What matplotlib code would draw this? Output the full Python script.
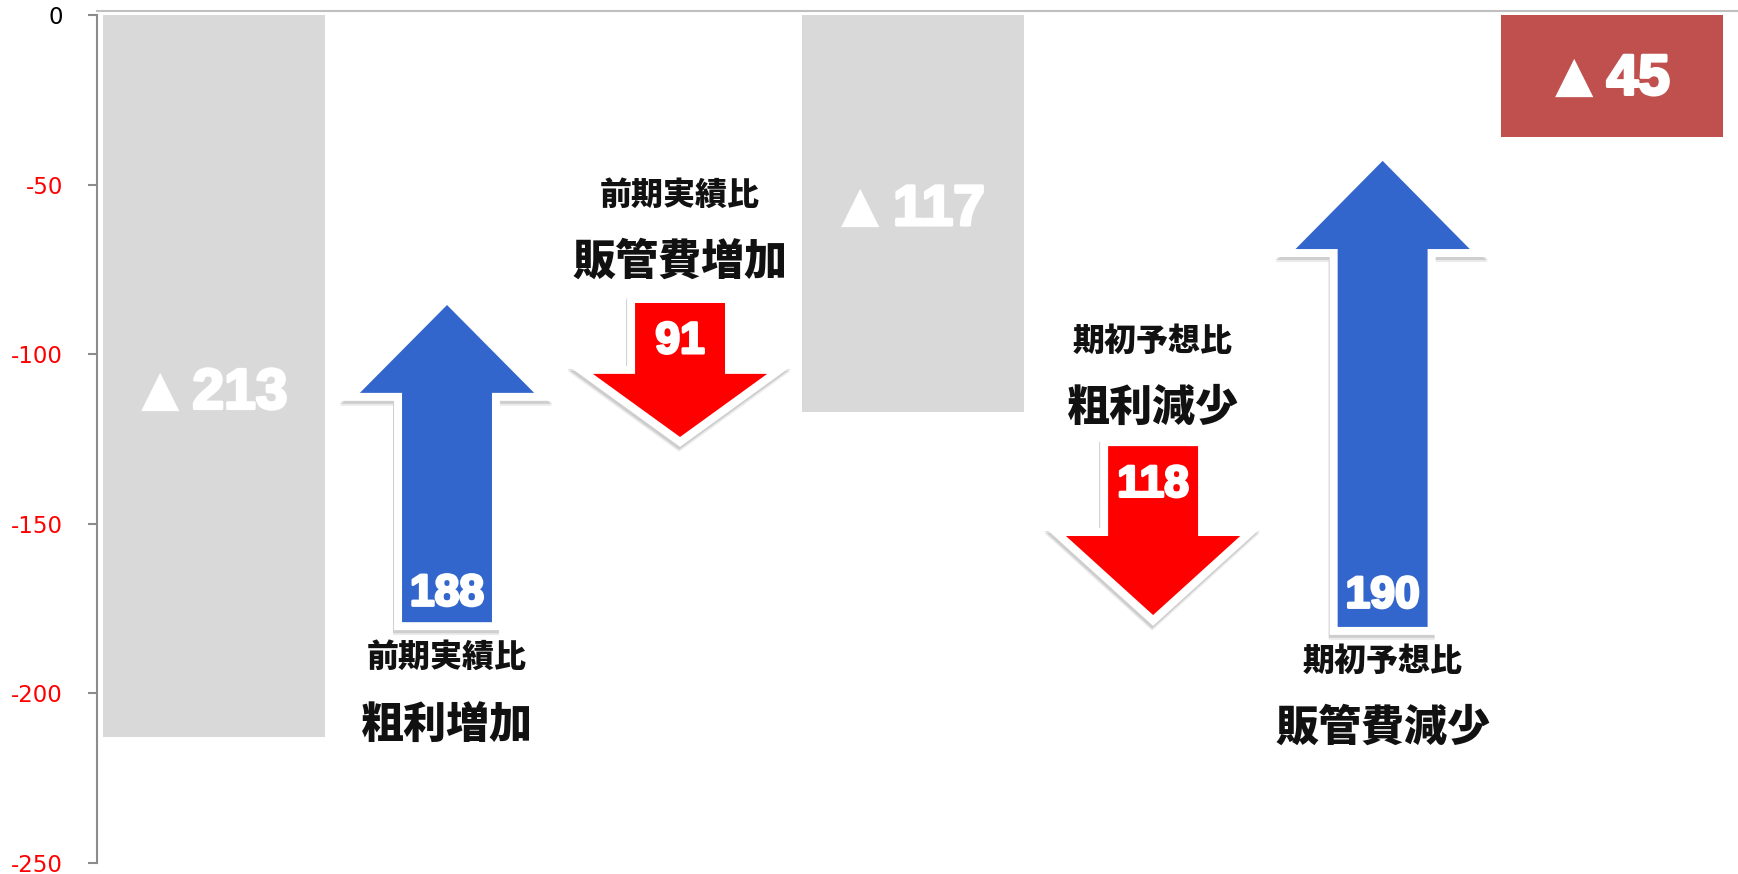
import matplotlib
matplotlib.use("Agg")
import matplotlib.pyplot as plt
from matplotlib.patches import Polygon
from matplotlib.transforms import offset_copy
import matplotlib.patheffects as pe

# ---- data ----
bar_slots = [0, 3, 6]
bar_values = [-213, -117, -36]          # drawn heights
bar_numbers = ["213", "117", "45"]
bar_mark = "▲"
bar_colors = ["#D9D9D9", "#D9D9D9", "#C0504D"]
bar_label_y = [-111.6, -57.5, -19.0]

arrow_slots = [1.0, 2.0, 4.03, 5.015]
arrow_values = ["188", "91", "118", "190"]
arrow_colors = ["#3366CC", "#FF0000", "#FF0000", "#3366CC"]
arrow_tail = [-179.0, -84.9, -127.1, -180.4]
arrow_headbase = [-111.4, -105.8, -153.6, -69.0]
arrow_tip = [-85.5, -124.4, -176.9, -43.0]
arrow_value_y = [-170.7, -96.3, -138.6, -171.3]
arrow_sub = ["前期実績比", "前期実績比", "期初予想比", "期初予想比"]
arrow_main = ["粗利増加", "販管費増加", "粗利減少", "販管費減少"]
arrow_sub_y = [-189.4, -53.1, -96.1, -190.4]
arrow_main_y = [-209.3, -72.7, -115.9, -210.2]

yticks = [0, -50, -100, -150, -200, -250]
unit_label = "百万円"

W, H, DPI = 1738, 874, 100
fig = plt.figure(figsize=(W / DPI, H / DPI), dpi=DPI)
ax = fig.add_axes([97 / W, 11 / H, (W - 97) / W, 852 / H])
ax.set_xlim(-0.502, 6.54)
ax.set_ylim(-250, 1.18)

CJK = ["Noto Sans CJK JP", "DejaVu Sans"]
NUM = ["Liberation Sans", "DejaVu Sans"]
renderer = fig.canvas.get_renderer()

# bars
ax.bar(bar_slots, bar_values, width=0.953, color=bar_colors, zorder=2)
TRI_W, GAP = 40, 12
for x, y, t in zip(bar_slots, bar_label_y, bar_numbers):
    num = ax.text(x, y, t, ha="left", va="center", color="white",
                  fontsize=41, fontweight="bold", family=NUM, zorder=5,
                  path_effects=[pe.withStroke(linewidth=2.2, foreground="white")])
    dw = num.get_window_extent(renderer).width
    total = TRI_W + GAP + dw
    num.set_transform(offset_copy(ax.transData, fig=fig, x=-total / 2 + TRI_W + GAP, y=0, units="dots"))
    ax.text(x, y, bar_mark, ha="left", va="center", color="white",
            fontsize=36, family=["DejaVu Sans"], zorder=5,
            transform=offset_copy(ax.transData, fig=fig, x=-total / 2, y=3, units="dots"))

# arrows
SW = 0.193
HW = 0.374
for cx, yb, yh, yt, col in zip(arrow_slots, arrow_tail, arrow_headbase, arrow_tip, arrow_colors):
    pts = [(cx - SW, yb), (cx + SW, yb), (cx + SW, yh), (cx + HW, yh),
           (cx, yt), (cx - HW, yh), (cx - SW, yh)]
    for dx, dy, a in [(-1, -5, 0.08), (-1, -3, 0.12)]:
        tr = offset_copy(ax.transData, fig=fig, x=dx, y=dy, units="dots")
        ax.add_patch(Polygon(pts, closed=True, facecolor="black", edgecolor="black",
                             lw=11.5, alpha=a, joinstyle="miter", transform=tr, zorder=3))
    ax.add_patch(Polygon(pts, closed=True, facecolor="white", edgecolor="white",
                         lw=11.5, joinstyle="miter", zorder=3.5))
    ax.add_patch(Polygon(pts, closed=True, facecolor=col, edgecolor="none", zorder=4))

for cx, y, t in zip(arrow_slots, arrow_value_y, arrow_values):
    ax.text(cx, y, t, ha="center", va="center", color="white",
            fontsize=32, fontweight="bold", family=NUM, zorder=6,
            path_effects=[pe.withStroke(linewidth=2.0, foreground="white")])
for cx, y, t in zip(arrow_slots, arrow_sub_y, arrow_sub):
    ax.text(cx, y, t, ha="center", va="center", color="#111111",
            fontsize=23, fontweight="heavy", family=CJK, zorder=6)
for cx, y, t in zip(arrow_slots, arrow_main_y, arrow_main):
    ax.text(cx, y, t, ha="center", va="center", color="#111111",
            fontsize=31, fontweight="heavy", family=CJK, zorder=6)

# axes styling
ax.set_xticks([])
ax.set_yticks(yticks)
ax.set_yticklabels([str(v) for v in yticks], family=["DejaVu Sans"], fontsize=16.5)
ax.tick_params(axis="y", direction="out", length=6.5, width=1.5, colors="#8C8C8C", pad=18)
for lbl, v in zip(ax.get_yticklabels(), yticks):
    lbl.set_color("black" if v == 0 else "red")
ax.spines["right"].set_visible(False)
ax.spines["bottom"].set_visible(False)
ax.spines["left"].set_bounds(-250, 0)
ax.spines["left"].set_color("#8C8C8C")
ax.spines["left"].set_linewidth(1.5)
ax.spines["top"].set_color("#BFBFBF")
ax.spines["top"].set_linewidth(1.5)

fig.text(51 / W, (H - 4) / H, unit_label, ha="center", va="bottom", color="#595959",
         fontsize=18, family=CJK)

fig.savefig("out.png", dpi=DPI)
